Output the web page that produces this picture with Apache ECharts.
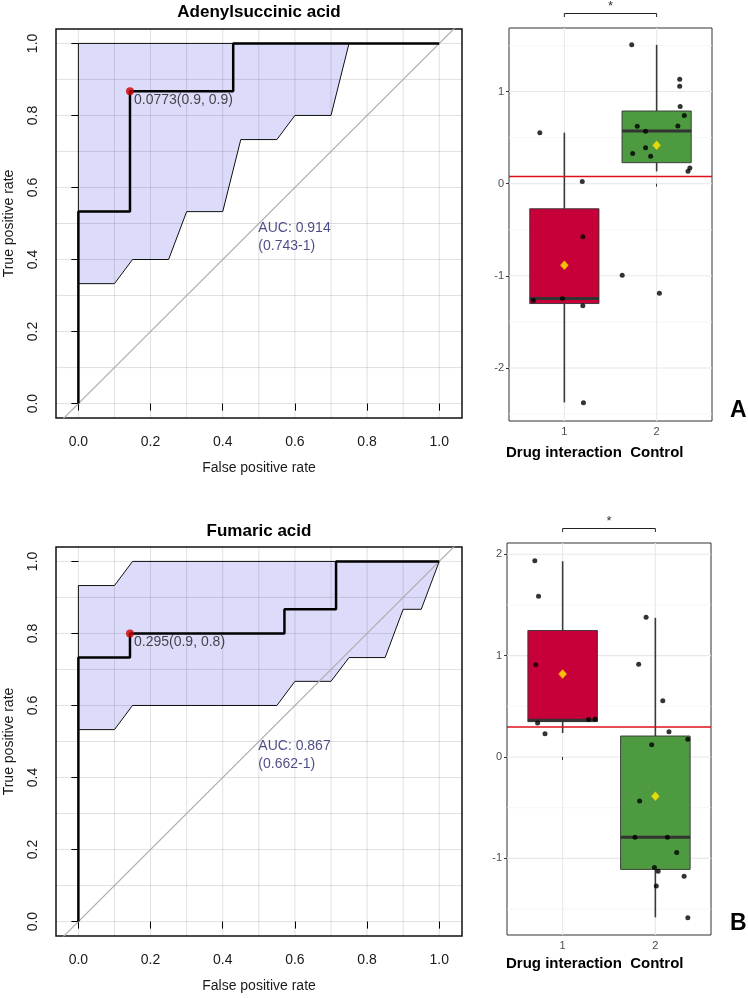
<!DOCTYPE html>
<html>
<head>
<meta charset="utf-8">
<script src="https://cdn.jsdelivr.net/npm/echarts@6/dist/echarts.min.js"></script>
<style>
  html, body { margin: 0; padding: 0; background: #fff; }
  #chart { width: 748px; height: 998px; }
</style>
</head>
<body>
<div id="chart"></div>
<script>
var FONT = '"Liberation Sans", Arial, Helvetica, sans-serif';

// ---- ROC panels (shared ticks) ----
var rocTicks = [0, 0.2, 0.4, 0.6, 0.8, 1.0];
var rocGridSteps = [0, 0.1, 0.2, 0.3, 0.4, 0.5, 0.6, 0.7, 0.8, 0.9, 1.0];

// A: Adenylsuccinic acid
var rocA_fpr = [0, 0, 0.143, 0.143, 0.429, 0.429, 1];
var rocA_tpr = [0, 0.533, 0.533, 0.867, 0.867, 1, 1];
var ciA_fpr = [0, 0, 0.75, 0.70, 0.60, 0.55, 0.45, 0.40, 0.30, 0.25, 0.15, 0.10, 0];
var ciA_tpr = [0.333, 1, 1, 0.80, 0.80, 0.733, 0.733, 0.533, 0.533, 0.40, 0.40, 0.333, 0.333];
var bestA = [0.143, 0.867];
var bestA_label = '0.0773(0.9, 0.9)';
var aucA = ['AUC: 0.914', '(0.743-1)'];

// B: Fumaric acid
var rocB_fpr = [0, 0, 0.143, 0.143, 0.571, 0.571, 0.714, 0.714, 1];
var rocB_tpr = [0, 0.733, 0.733, 0.80, 0.80, 0.867, 0.867, 1, 1];
var ciB_fpr = [0, 0, 0.10, 0.15, 1, 0.95, 0.90, 0.85, 0.75, 0.70, 0.60, 0.55, 0.15, 0.10, 0];
var ciB_tpr = [0.533, 0.933, 0.933, 1, 1, 0.867, 0.867, 0.733, 0.733, 0.667, 0.667, 0.60, 0.60, 0.533, 0.533];
var bestB = [0.143, 0.80];
var bestB_label = '0.295(0.9, 0.8)';
var aucB = ['AUC: 0.867', '(0.662-1)'];

// ---- Box plot panels ----
var groupNames = 'Drug interaction  Control';
var boxColors = ['#C70039', '#4E9A40'];

// A box stats: [x, lowerWhisker, q1, median, q3, upperWhisker]
var boxA_stats = [[1, -2.374, -1.301, -1.247, -0.272, 0.554], [2, 0.134, 0.228, 0.572, 0.789, 1.507]];
var boxA_mean = [-0.885, 0.416];
var boxA_threshold = 0.0773;
var boxA_ticks = [-2, -1, 0, 1];
var boxA_minor = [-2.5, -1.5, -0.5, 0.5, 1.5];
var ptsA_x = [0.734, 1.194, 1.20, 1.627, 2.03, 0.663, 0.98, 1.20, 1.207, 1.73, 2.25, 2.25, 2.255, 2.30, 2.23, 1.79, 1.88, 1.88, 1.74, 1.935, 2.36, 2.34];
var ptsA_y = [0.554, 0.025, -0.576, -0.993, -1.189, -1.268, -1.247, -1.326, -2.377, 1.507, 1.134, 1.058, 0.837, 0.739, 0.626, 0.623, 0.568, 0.391, 0.329, 0.297, 0.170, 0.134];

// B box stats
var boxB_stats = [[1, 0.236, 0.349, 0.362, 1.248, 1.931], [2, -1.582, -1.109, -0.791, 0.207, 1.373]];
var boxB_mean = [0.818, -0.387];
var boxB_threshold = 0.295;
var boxB_ticks = [-1, 0, 1, 2];
var boxB_minor = [-1.5, -0.5, 0.5, 1.5];
var ptsB_x = [0.70, 0.74, 0.71, 0.73, 0.81, 1.28, 1.35, 1.90, 1.82, 2.08, 2.147, 2.35, 1.96, 1.83, 1.78, 2.13, 2.23, 1.99, 2.03, 2.31, 2.01, 2.35];
var ptsB_y = [1.935, 1.586, 0.910, 0.335, 0.230, 0.371, 0.374, 1.379, 0.916, 0.555, 0.250, 0.174, 0.122, -0.433, -0.791, -0.791, -0.942, -1.089, -1.126, -1.176, -1.272, -1.586];

var BOX_HALF = 0.375;

function zip(xs, ys) {
  return xs.map(function (x, i) { return [x, ys[i]]; });
}

// gridline series: each item [value, dir] dir 0 = vertical, 1 = horizontal
function gridLines(idx, values, dir, color, width, z) {
  return {
    type: 'custom', xAxisIndex: idx, yAxisIndex: idx, z: z, silent: true, clip: false,
    data: values.map(function (v) { return [v, dir]; }),
    renderItem: function (params, api) {
      var v = api.value(0), d = api.value(1), cs = params.coordSys, p;
      if (d === 0) {
        p = api.coord([v, 0]);
        return { type: 'line', shape: { x1: p[0], y1: cs.y, x2: p[0], y2: cs.y + cs.height }, style: { stroke: color, lineWidth: width } };
      }
      p = api.coord([1, v]);
      return { type: 'line', shape: { x1: cs.x, y1: p[1], x2: cs.x + cs.width, y2: p[1] }, style: { stroke: color, lineWidth: width } };
    }
  };
}

function rocSeries(idx, fpr, tpr, ciX, ciY, best, bestLabel, auc) {
  return [
    {
      type: 'custom', xAxisIndex: idx, yAxisIndex: idx, z: 1, silent: true,
      data: [[0, 0]],
      renderItem: function (params, api) {
        var pts = ciX.map(function (x, i) { return api.coord([x, ciY[i]]); });
        return { type: 'polygon', shape: { points: pts }, style: { fill: '#DCDCFA', stroke: '#111', lineWidth: 1 } };
      }
    },
    gridLines(idx, rocGridSteps, 0, 'rgba(0,0,0,0.12)', 1, 2),
    gridLines(idx, rocGridSteps, 1, 'rgba(0,0,0,0.12)', 1, 2),
    {
      type: 'line', xAxisIndex: idx, yAxisIndex: idx, z: 3, silent: true, showSymbol: false,
      data: [[-0.1, -0.1], [1.1, 1.1]],
      lineStyle: { color: '#AFAFAF', width: 1.2 }
    },
    {
      type: 'line', xAxisIndex: idx, yAxisIndex: idx, z: 4, silent: true, showSymbol: false,
      data: zip(fpr, tpr),
      lineStyle: { color: '#000', width: 2.5 }
    },
    {
      type: 'scatter', xAxisIndex: idx, yAxisIndex: idx, z: 5, silent: true,
      data: [best], symbolSize: 8, itemStyle: { color: '#CC0000' },
      label: { show: true, formatter: bestLabel, position: [8, 13], align: 'left', verticalAlign: 'middle', fontFamily: FONT, fontSize: 14, color: '#1a1a1a' }
    },
    {
      type: 'scatter', xAxisIndex: idx, yAxisIndex: idx, z: 5, silent: true,
      data: [[0.5, 0.46]], symbolSize: 1, itemStyle: { color: 'rgba(0,0,0,0)' },
      label: { show: true, formatter: auc.join('\n'), position: [0, 0], align: 'left', verticalAlign: 'middle', lineHeight: 18, fontFamily: FONT, fontSize: 14, color: '#1E1E6A' }
    }
  ];
}

function boxSeries(idx, stats, means, threshold, minor, ticks, px, py) {
  return [
    gridLines(idx, minor, 1, '#F3F3F3', 0.7, 0),
    gridLines(idx, ticks, 1, '#E8E8E8', 1.1, 0),
    gridLines(idx, [1, 2], 0, '#E8E8E8', 1.1, 0),
    {
      type: 'custom', xAxisIndex: idx, yAxisIndex: idx, z: 2, silent: true,
      data: stats,
      encode: { x: 0, y: [1, 2, 3, 4, 5] },
      renderItem: function (params, api) {
        var x = api.value(0), lo = api.value(1), q1 = api.value(2), med = api.value(3), q3 = api.value(4), hi = api.value(5);
        var tl = api.coord([x - BOX_HALF, q3]), br = api.coord([x + BOX_HALF, q1]);
        var pHi = api.coord([x, hi]), pLo = api.coord([x, lo]), pQ3 = api.coord([x, q3]), pQ1 = api.coord([x, q1]);
        var mL = api.coord([x - BOX_HALF, med]), mR = api.coord([x + BOX_HALF, med]);
        return {
          type: 'group', children: [
            { type: 'line', shape: { x1: pHi[0], y1: pHi[1], x2: pQ3[0], y2: pQ3[1] }, style: { stroke: '#3A3A3A', lineWidth: 1.6 } },
            { type: 'line', shape: { x1: pQ1[0], y1: pQ1[1], x2: pLo[0], y2: pLo[1] }, style: { stroke: '#3A3A3A', lineWidth: 1.6 } },
            { type: 'rect', shape: { x: tl[0], y: tl[1], width: br[0] - tl[0], height: br[1] - tl[1] }, style: { fill: boxColors[params.dataIndex], stroke: '#333', lineWidth: 0.9 } },
            { type: 'line', shape: { x1: mL[0], y1: mL[1], x2: mR[0], y2: mR[1] }, style: { stroke: '#333', lineWidth: 3 } }
          ]
        };
      }
    },
    {
      type: 'custom', xAxisIndex: idx, yAxisIndex: idx, z: 3, silent: true,
      data: [[threshold, 1]],
      renderItem: function (params, api) {
        var cs = params.coordSys, p = api.coord([1, api.value(0)]);
        return { type: 'line', shape: { x1: cs.x, y1: p[1], x2: cs.x + cs.width, y2: p[1] }, style: { stroke: '#E0101A', lineWidth: 1.5 } };
      }
    },
    {
      type: 'scatter', xAxisIndex: idx, yAxisIndex: idx, z: 4, silent: true,
      data: zip(px, py), symbolSize: 5, itemStyle: { color: '#000' }
    },
    {
      type: 'scatter', xAxisIndex: idx, yAxisIndex: idx, z: 5, silent: true,
      data: stats.map(function (s, i) { return [s[0], means[i]]; }),
      symbol: 'diamond', symbolSize: [8, 9], itemStyle: { color: '#FFF000', borderColor: '#FFB000', borderWidth: 0.6 }
    },
    {
      type: 'custom', xAxisIndex: idx, yAxisIndex: idx, z: 5, silent: true, clip: false,
      data: [[1, 2]],
      renderItem: function (params, api) {
        var cs = params.coordSys;
        var a = api.coord([api.value(0), 0]), b = api.coord([api.value(1), 0]);
        var y = cs.y - 14.5;
        return {
          type: 'group', children: [
            { type: 'polyline', shape: { points: [[a[0], y + 3.5], [a[0], y], [b[0], y], [b[0], y + 3.5]] }, style: { stroke: '#222', lineWidth: 1, fill: null } },
            { type: 'text', style: { text: '*', x: (a[0] + b[0]) / 2, y: y - 7, align: 'center', verticalAlign: 'middle', font: '13px ' + FONT, fill: '#333' } }
          ]
        };
      }
    }
  ];
}

function rocXAxis(idx) {
  return {
    type: 'value', gridIndex: idx, min: -0.062, max: 1.063,
    name: 'False positive rate', nameLocation: 'middle', nameGap: 43,
    nameTextStyle: { fontFamily: FONT, fontSize: 14, color: '#1a1a1a' },
    axisLine: { show: false },
    axisTick: { show: true, length: 7, customValues: rocTicks, lineStyle: { color: '#000', width: 1 } },
    axisLabel: { customValues: rocTicks, margin: 17, fontFamily: FONT, fontSize: 14, color: '#1a1a1a', formatter: function (v) { return v.toFixed(1); } },
    splitLine: { show: false }
  };
}

function rocYAxis(idx) {
  return {
    type: 'value', gridIndex: idx, min: -0.04, max: 1.04,
    name: 'True positive rate', nameLocation: 'middle', nameGap: 40,
    nameTextStyle: { fontFamily: FONT, fontSize: 14, color: '#1a1a1a' },
    axisLine: { show: false },
    axisTick: { show: true, length: 7, customValues: rocTicks, lineStyle: { color: '#000', width: 1 } },
    axisLabel: { customValues: rocTicks, rotate: 90, margin: 16, fontFamily: FONT, fontSize: 14, color: '#1a1a1a', formatter: function (v) { return v.toFixed(1); } },
    splitLine: { show: false }
  };
}

function boxXAxis(idx) {
  return {
    type: 'value', gridIndex: idx, min: 0.4, max: 2.6,
    axisLine: { show: false },
    axisTick: { show: true, length: 3, customValues: [1, 2], lineStyle: { color: '#333' } },
    axisLabel: { customValues: [1, 2], margin: 5, fontFamily: FONT, fontSize: 11, color: '#4D4D4D' },
    splitLine: { show: false }
  };
}

function boxYAxis(idx, min, max, ticks) {
  return {
    type: 'value', gridIndex: idx, min: min, max: max,
    axisLine: { show: false },
    axisTick: { show: true, length: 3, customValues: ticks, lineStyle: { color: '#333' } },
    axisLabel: { customValues: ticks, margin: 5, fontFamily: FONT, fontSize: 11, color: '#4D4D4D' },
    splitLine: { show: false }
  };
}

var chart = echarts.init(document.getElementById('chart'), null, { renderer: 'canvas' });

var option = {
  backgroundColor: '#fff',
  animation: false,
  title: [
    { text: 'Adenylsuccinic acid', left: 259, top: 4, textAlign: 'center', padding: 0, textStyle: { fontFamily: FONT, fontSize: 17, fontWeight: 'bold', color: '#000' } },
    { text: 'Fumaric acid', left: 259, top: 523, textAlign: 'center', padding: 0, textStyle: { fontFamily: FONT, fontSize: 17, fontWeight: 'bold', color: '#000' } },
    { text: groupNames, left: 506, top: 445, padding: 0, textStyle: { fontFamily: FONT, fontSize: 15, fontWeight: 'bold', color: '#000' } },
    { text: groupNames, left: 506, top: 956, padding: 0, textStyle: { fontFamily: FONT, fontSize: 15, fontWeight: 'bold', color: '#000' } },
    { text: 'A', left: 730, top: 399, padding: 0, textStyle: { fontFamily: FONT, fontSize: 23, fontWeight: 'bold', color: '#000' } },
    { text: 'B', left: 730, top: 912, padding: 0, textStyle: { fontFamily: FONT, fontSize: 23, fontWeight: 'bold', color: '#000' } }
  ],
  grid: [
    { left: 56, top: 29, width: 406, height: 389, show: true, borderColor: '#111', borderWidth: 1.5, containLabel: false, outerBoundsMode: 'none' },
    { left: 509, top: 28, width: 203, height: 393, show: true, borderColor: '#333', borderWidth: 1, containLabel: false, outerBoundsMode: 'none' },
    { left: 56, top: 547, width: 406, height: 389, show: true, borderColor: '#111', borderWidth: 1.5, containLabel: false, outerBoundsMode: 'none' },
    { left: 507, top: 543, width: 204, height: 392, show: true, borderColor: '#333', borderWidth: 1, containLabel: false, outerBoundsMode: 'none' }
  ],
  xAxis: [rocXAxis(0), boxXAxis(1), rocXAxis(2), boxXAxis(3)],
  yAxis: [rocYAxis(0), boxYAxis(1, -2.576, 1.69, boxA_ticks), rocYAxis(2), boxYAxis(3, -1.756, 2.111, boxB_ticks)],
  series: []
    .concat(rocSeries(0, rocA_fpr, rocA_tpr, ciA_fpr, ciA_tpr, bestA, bestA_label, aucA))
    .concat(boxSeries(1, boxA_stats, boxA_mean, boxA_threshold, boxA_minor, boxA_ticks, ptsA_x, ptsA_y))
    .concat(rocSeries(2, rocB_fpr, rocB_tpr, ciB_fpr, ciB_tpr, bestB, bestB_label, aucB))
    .concat(boxSeries(3, boxB_stats, boxB_mean, boxB_threshold, boxB_minor, boxB_ticks, ptsB_x, ptsB_y))
};

chart.setOption(option);
</script>
</body>
</html>
